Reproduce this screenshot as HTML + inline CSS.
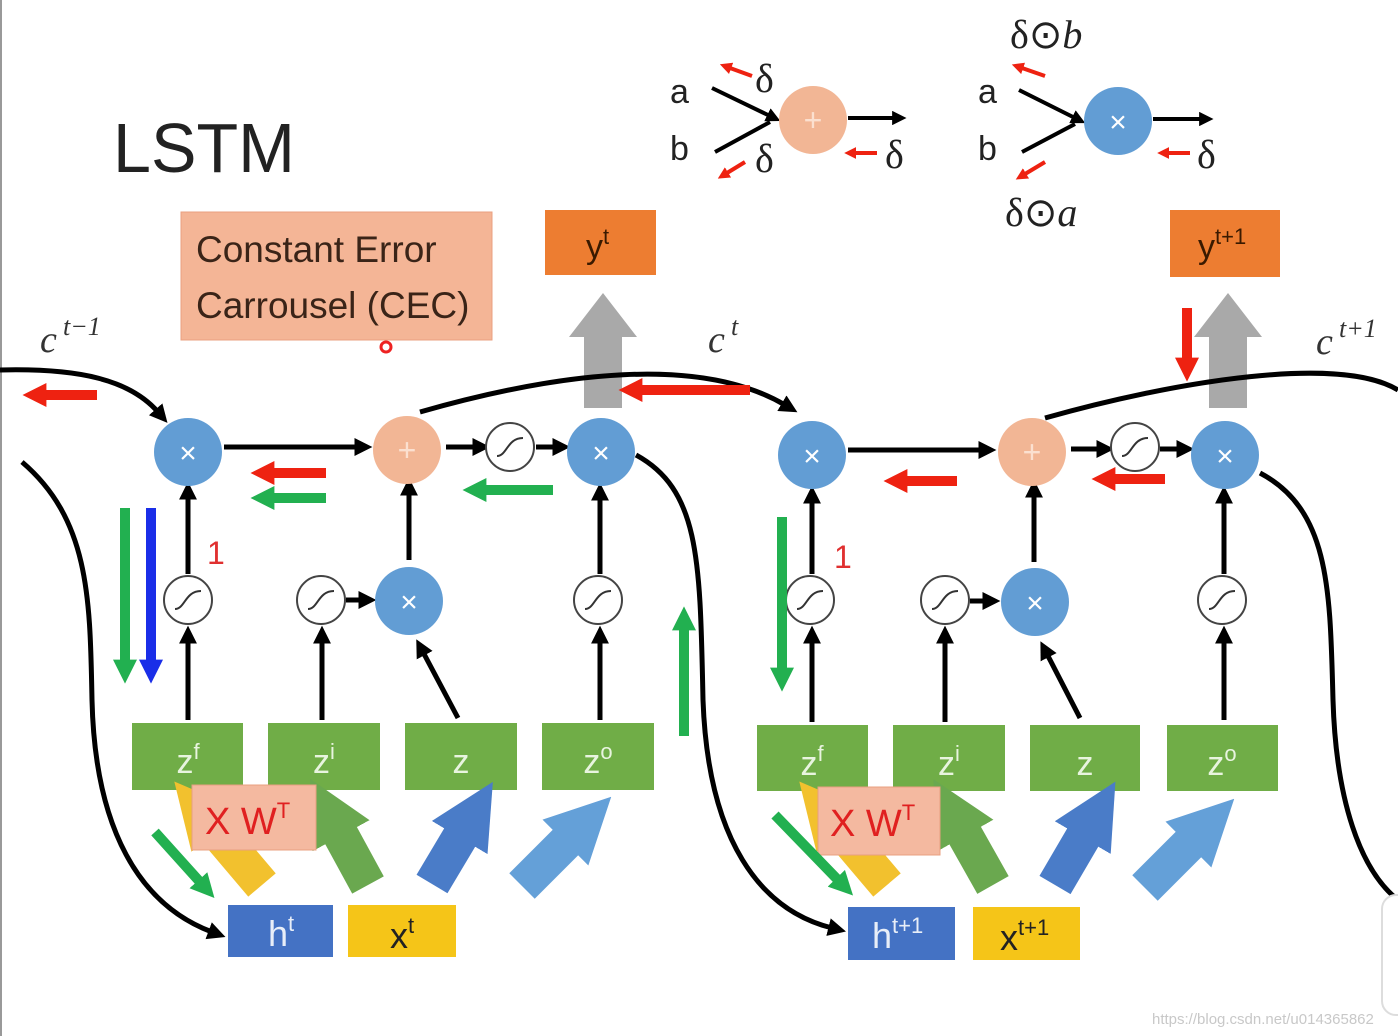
<!DOCTYPE html>
<html><head><meta charset="utf-8"><style>
html,body{margin:0;padding:0;background:#fff;}
svg{display:block;}
.t{font-family:"Liberation Sans",sans-serif;}
.m{font-family:"Liberation Serif",serif;font-style:italic;}
</style></head><body>
<svg width="1398" height="1036" viewBox="0 0 1398 1036" xmlns="http://www.w3.org/2000/svg">
<defs>
<marker id="bk" viewBox="0 0 10 10" refX="2" refY="5" markerWidth="3.6" markerHeight="3.6" orient="auto"><path d="M0,0L10,5L0,10z" fill="#000"/></marker>
<marker id="rd" viewBox="0 0 10 10" refX="1" refY="5" markerWidth="2.4" markerHeight="2.4" orient="auto"><path d="M0,0L10,5L0,10z" fill="#ee2211"/></marker>
<marker id="gr" viewBox="0 0 10 10" refX="1" refY="5" markerWidth="2.4" markerHeight="2.4" orient="auto"><path d="M0,0L10,5L0,10z" fill="#22b050"/></marker>
<marker id="bl" viewBox="0 0 10 10" refX="1" refY="5" markerWidth="2.4" markerHeight="2.4" orient="auto"><path d="M0,0L10,5L0,10z" fill="#1a2ee8"/></marker>
<marker id="rs" viewBox="0 0 10 10" refX="1" refY="5" markerWidth="3" markerHeight="3" orient="auto"><path d="M0,0L10,5L0,10z" fill="#ee2211"/></marker>
<marker id="fy" viewBox="0 0 10 10" refX="1" refY="5" markerWidth="1.8" markerHeight="1.8" orient="auto"><path d="M0,0L10,5L0,10z" fill="#f2c12e"/></marker>
<marker id="fg" viewBox="0 0 10 10" refX="1" refY="5" markerWidth="1.8" markerHeight="1.8" orient="auto"><path d="M0,0L10,5L0,10z" fill="#6aa84f"/></marker>
<marker id="fb" viewBox="0 0 10 10" refX="1" refY="5" markerWidth="1.8" markerHeight="1.8" orient="auto"><path d="M0,0L10,5L0,10z" fill="#4a7cc8"/></marker>
<marker id="fl" viewBox="0 0 10 10" refX="1" refY="5" markerWidth="1.8" markerHeight="1.8" orient="auto"><path d="M0,0L10,5L0,10z" fill="#64a0d8"/></marker>
<g id="sig"><circle r="24" fill="#fff" stroke="#444" stroke-width="2"/><path d="M-13,9 C-3,9 -3,-9 13,-9" fill="none" stroke="#333" stroke-width="2"/></g>
<g id="mul"><circle r="34" fill="#629dd4"/><text y="11" text-anchor="middle" class="t" font-size="30" fill="#fff">×</text></g>
<g id="add"><circle r="34" fill="#f2b695"/><text y="11" text-anchor="middle" class="t" font-size="32" fill="#fbe0d0">+</text></g>
</defs>
<rect x="0" y="0" width="2" height="1036" fill="#999"/>

<text x="113" y="172" class="t" font-size="70" fill="#222" textLength="182" lengthAdjust="spacingAndGlyphs">LSTM</text>
<rect x="181" y="212" width="311" height="128" fill="#f4b596" stroke="#eaa080"/>
<text x="196" y="262" class="t" font-size="37" fill="#3a2418">Constant Error</text>
<text x="196" y="318" class="t" font-size="37" fill="#3a2418">Carrousel (CEC)</text>
<circle cx="386" cy="347" r="5" fill="none" stroke="#e22" stroke-width="3"/>

<text x="40" y="352" class="m" font-size="38" fill="#333">c</text><text x="63" y="335" class="m" font-size="26" fill="#333">t−1</text>
<text x="708" y="352" class="m" font-size="38" fill="#333">c</text><text x="731" y="335" class="m" font-size="26" fill="#333">t</text>
<text x="1316" y="354" class="m" font-size="38" fill="#333">c</text><text x="1339" y="337" class="m" font-size="26" fill="#333">t+1</text>

<g stroke="#000" stroke-width="4" fill="none">
<line x1="712" y1="88" x2="770" y2="116" marker-end="url(#bk)"/>
<line x1="715" y1="152" x2="770" y2="122"/>
<line x1="848" y1="118" x2="895" y2="118" marker-end="url(#bk)"/>
<line x1="1019" y1="90" x2="1075" y2="118" marker-end="url(#bk)"/>
<line x1="1022" y1="152" x2="1075" y2="124"/>
<line x1="1153" y1="119" x2="1202" y2="119" marker-end="url(#bk)"/>
</g>
<use href="#add" x="813" y="120"/>
<use href="#mul" x="1118" y="121"/>
<g class="t" font-size="34" fill="#222">
<text x="670" y="103">a</text><text x="670" y="160">b</text>
<text x="978" y="103">a</text><text x="978" y="160">b</text>
</g>
<g font-size="40" fill="#222" style="font-family:'Liberation Serif',serif;font-style:normal">
<text x="755" y="92">δ</text><text x="755" y="172">δ</text><text x="885" y="168">δ</text><text x="1197" y="168">δ</text>
<text x="1010" y="48">δ⊙<tspan style="font-style:italic">b</tspan></text>
<text x="1005" y="226">δ⊙<tspan style="font-style:italic">a</tspan></text>
</g>
<g stroke="#ee2211" stroke-width="4" fill="none">
<line x1="752" y1="76" x2="730" y2="68" marker-end="url(#rs)"/>
<line x1="745" y1="162" x2="727" y2="173" marker-end="url(#rs)"/>
<line x1="877" y1="153" x2="855" y2="153" marker-end="url(#rs)"/>
<line x1="1045" y1="76" x2="1022" y2="68" marker-end="url(#rs)"/>
<line x1="1045" y1="162" x2="1025" y2="174" marker-end="url(#rs)"/>
<line x1="1190" y1="153" x2="1168" y2="153" marker-end="url(#rs)"/>
</g>

<rect x="545" y="210" width="111" height="65" fill="#ed7d31"/>
<text x="586" y="258" class="t" font-size="34" fill="#3a1a00">y<tspan font-size="22" dy="-14">t</tspan></text>
<rect x="1170" y="210" width="110" height="67" fill="#ed7d31"/>
<text x="1198" y="258" class="t" font-size="34" fill="#3a1a00">y<tspan font-size="22" dy="-14">t+1</tspan></text>
<polygon points="584,408 622,408 622,337 637,337 603,293 569,337 584,337" fill="#a9a9a9"/>
<polygon points="1209,408 1247,408 1247,337 1262,337 1228,293 1194,337 1209,337" fill="#a9a9a9"/>

<g stroke="#000" stroke-width="5" fill="none">
<path d="M0,370 C80,368 130,380 158,412" marker-end="url(#bk)"/>
<path d="M420,412 C560,372 700,355 785,405" marker-end="url(#bk)"/>
<path d="M1045,418 C1180,380 1340,355 1398,390"/>
<path d="M22,462 C90,520 90,600 92,700 C95,830 140,905 212,932" marker-end="url(#bk)"/>
<path d="M636,455 C700,490 700,560 703,700 C708,840 760,910 832,928" marker-end="url(#bk)"/>
<path d="M1260,473 C1330,510 1330,590 1333,700 C1336,800 1360,870 1398,900"/>
<line x1="224" y1="447" x2="358" y2="447" marker-end="url(#bk)"/>
<line x1="446" y1="447" x2="476" y2="447" marker-end="url(#bk)"/>
<line x1="536" y1="447" x2="556" y2="447" marker-end="url(#bk)"/>
<line x1="188" y1="574" x2="188" y2="496" marker-end="url(#bk)"/>
<line x1="188" y1="720" x2="188" y2="640" marker-end="url(#bk)"/>
<line x1="322" y1="720" x2="322" y2="640" marker-end="url(#bk)"/>
<line x1="346" y1="600" x2="362" y2="600" marker-end="url(#bk)"/>
<line x1="409" y1="560" x2="409" y2="492" marker-end="url(#bk)"/>
<line x1="458" y1="718" x2="423" y2="652" marker-end="url(#bk)"/>
<line x1="600" y1="574" x2="600" y2="497" marker-end="url(#bk)"/>
<line x1="600" y1="720" x2="600" y2="640" marker-end="url(#bk)"/>
<line x1="848" y1="450" x2="982" y2="450" marker-end="url(#bk)"/>
<line x1="1071" y1="449" x2="1100" y2="449" marker-end="url(#bk)"/>
<line x1="1160" y1="449" x2="1180" y2="449" marker-end="url(#bk)"/>
<line x1="812" y1="574" x2="812" y2="500" marker-end="url(#bk)"/>
<line x1="812" y1="722" x2="812" y2="640" marker-end="url(#bk)"/>
<line x1="945" y1="722" x2="945" y2="640" marker-end="url(#bk)"/>
<line x1="970" y1="601" x2="986" y2="601" marker-end="url(#bk)"/>
<line x1="1034" y1="562" x2="1034" y2="494" marker-end="url(#bk)"/>
<line x1="1080" y1="718" x2="1047" y2="654" marker-end="url(#bk)"/>
<line x1="1224" y1="574" x2="1224" y2="500" marker-end="url(#bk)"/>
<line x1="1224" y1="720" x2="1224" y2="640" marker-end="url(#bk)"/>
</g>

<use href="#mul" x="188" y="452"/><use href="#add" x="407" y="450"/><use href="#sig" x="510" y="447"/><use href="#mul" x="601" y="452"/>
<use href="#sig" x="188" y="600"/><use href="#sig" x="321" y="600"/><use href="#mul" x="409" y="601"/><use href="#sig" x="598" y="600"/>
<use href="#mul" x="812" y="455"/><use href="#add" x="1032" y="452"/><use href="#sig" x="1135" y="447"/><use href="#mul" x="1225" y="455"/>
<use href="#sig" x="810" y="600"/><use href="#sig" x="945" y="600"/><use href="#mul" x="1035" y="602"/><use href="#sig" x="1222" y="600"/>

<g fill="#70ad47">
<rect x="132" y="723" width="111" height="67"/><rect x="268" y="723" width="112" height="67"/><rect x="405" y="723" width="112" height="67"/><rect x="542" y="723" width="112" height="67"/>
<rect x="757" y="725" width="111" height="66"/><rect x="893" y="725" width="112" height="66"/><rect x="1030" y="725" width="110" height="66"/><rect x="1167" y="725" width="111" height="66"/>
</g>
<g class="t" font-size="34" fill="#e8f4df" text-anchor="middle">
<text x="188" y="773">z<tspan font-size="22" dy="-14">f</tspan></text>
<text x="324" y="773">z<tspan font-size="22" dy="-14">i</tspan></text>
<text x="461" y="773">z</text>
<text x="598" y="773">z<tspan font-size="22" dy="-14">o</tspan></text>
<text x="812" y="775">z<tspan font-size="22" dy="-14">f</tspan></text>
<text x="949" y="775">z<tspan font-size="22" dy="-14">i</tspan></text>
<text x="1085" y="775">z</text>
<text x="1222" y="775">z<tspan font-size="22" dy="-14">o</tspan></text>
</g>

<g stroke-width="36" fill="none">
<line x1="262" y1="885" x2="212" y2="826" stroke="#f2c12e" marker-end="url(#fy)"/>
<line x1="368" y1="885" x2="338" y2="830" stroke="#6aa84f" marker-end="url(#fg)"/>
<line x1="432" y1="884" x2="463" y2="832" stroke="#4a7cc8" marker-end="url(#fb)"/>
<line x1="522" y1="886" x2="570" y2="838" stroke="#64a0d8" marker-end="url(#fl)"/>
<line x1="887" y1="885" x2="837" y2="826" stroke="#f2c12e" marker-end="url(#fy)"/>
<line x1="993" y1="885" x2="962" y2="830" stroke="#6aa84f" marker-end="url(#fg)"/>
<line x1="1055" y1="885" x2="1086" y2="832" stroke="#4a7cc8" marker-end="url(#fb)"/>
<line x1="1145" y1="888" x2="1193" y2="840" stroke="#64a0d8" marker-end="url(#fl)"/>
</g>
<rect x="192" y="785" width="124" height="65" fill="#f4b9a0" stroke="#e8a080"/>
<text x="205" y="834" class="t" font-size="38" fill="#e02020">X W<tspan font-size="22" dy="-16">T</tspan></text>
<rect x="818" y="787" width="122" height="68" fill="#f4b9a0" stroke="#e8a080"/>
<text x="830" y="836" class="t" font-size="38" fill="#e02020">X W<tspan font-size="22" dy="-16">T</tspan></text>

<rect x="228" y="905" width="105" height="52" fill="#4472c4"/>
<text x="268" y="946" class="t" font-size="36" fill="#e8eef8">h<tspan font-size="22" dy="-15">t</tspan></text>
<rect x="348" y="905" width="108" height="52" fill="#f5c518"/>
<text x="390" y="948" class="t" font-size="36" fill="#222">x<tspan font-size="22" dy="-15">t</tspan></text>
<rect x="848" y="907" width="107" height="53" fill="#4472c4"/>
<text x="872" y="948" class="t" font-size="36" fill="#e8eef8">h<tspan font-size="22" dy="-15">t+1</tspan></text>
<rect x="973" y="907" width="107" height="53" fill="#f5c518"/>
<text x="1000" y="950" class="t" font-size="36" fill="#222">x<tspan font-size="22" dy="-15">t+1</tspan></text>

<g stroke-width="10" fill="none">
<line x1="97" y1="395" x2="44" y2="395" stroke="#ee2211" marker-end="url(#rd)"/>
<line x1="750" y1="390" x2="640" y2="390" stroke="#ee2211" marker-end="url(#rd)"/>
<line x1="326" y1="473" x2="272" y2="473" stroke="#ee2211" marker-end="url(#rd)"/>
<line x1="326" y1="498" x2="272" y2="498" stroke="#22b050" marker-end="url(#gr)"/>
<line x1="553" y1="490" x2="484" y2="490" stroke="#22b050" marker-end="url(#gr)"/>
<line x1="125" y1="508" x2="125" y2="662" stroke="#22b050" marker-end="url(#gr)"/>
<line x1="151" y1="508" x2="151" y2="662" stroke="#1a2ee8" marker-end="url(#bl)"/>
<line x1="684" y1="736" x2="684" y2="628" stroke="#22b050" marker-end="url(#gr)"/>
<line x1="155" y1="832" x2="200" y2="882" stroke="#22b050" marker-end="url(#gr)"/>
<line x1="957" y1="481" x2="905" y2="481" stroke="#ee2211" marker-end="url(#rd)"/>
<line x1="1165" y1="479" x2="1113" y2="479" stroke="#ee2211" marker-end="url(#rd)"/>
<line x1="1187" y1="308" x2="1187" y2="360" stroke="#ee2211" marker-end="url(#rd)"/>
<line x1="782" y1="517" x2="782" y2="670" stroke="#22b050" marker-end="url(#gr)"/>
<line x1="775" y1="815" x2="838" y2="880" stroke="#22b050" marker-end="url(#gr)"/>
</g>
<text x="207" y="564" class="t" font-size="32" fill="#e03030">1</text>
<text x="834" y="568" class="t" font-size="32" fill="#e03030">1</text>

<rect x="1382" y="895" width="40" height="120" rx="14" fill="#fff" stroke="#ddd" stroke-width="2"/>
<text x="1152" y="1024" class="t" font-size="15" fill="#c8c8c8">https://blog.csdn.net/u014365862</text>
</svg>
</body></html>
